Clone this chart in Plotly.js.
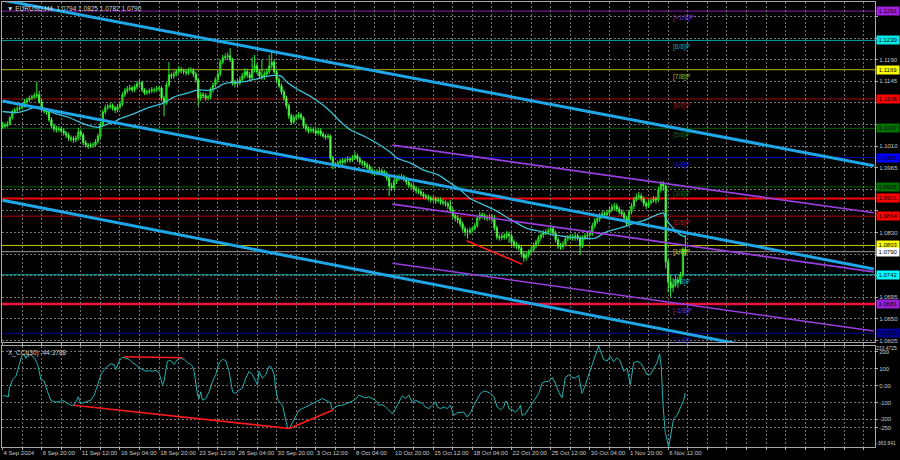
<!DOCTYPE html>
<html><head><meta charset="utf-8">
<script src="https://cdn.plot.ly/plotly-3.0.1.min.js"></script>
<style>html,body{margin:0;padding:0;background:#000;}#chart{width:900px;height:460px;}</style>
</head><body><div id="chart"></div>
<script>
// ---------- DATA (EURUSD H4, bar index 0 = 4 Sep 2024 04:00) ----------
const symbolName = 'EURUSD,H4';
const xTickLabels = ["4 Sep 2024","6 Sep 20:00","11 Sep 12:00","16 Sep 04:00","18 Sep 20:00","23 Sep 12:00","26 Sep 04:00","30 Sep 20:00","3 Oct 12:00","8 Oct 04:00","10 Oct 20:00","15 Oct 12:00","18 Oct 04:00","22 Oct 20:00","25 Oct 12:00","30 Oct 04:00","1 Nov 20:00","6 Nov 12:00"];
const barOpen = [
1.1050,1.1054,1.1052,1.1056,1.1069,1.1081,1.1085,1.1087,1.1090,1.1094,
1.1102,1.1106,1.1110,1.1112,1.1115,1.1117,1.1102,1.1085,1.1083,1.1081,
1.1065,1.1052,1.1046,1.1044,1.1046,1.1042,1.1037,1.1033,1.1027,1.1025,
1.1023,1.1027,1.1040,1.1033,1.1017,1.1012,1.1010,1.1012,1.1012,1.1019,
1.1031,1.1056,1.1081,1.1090,1.1092,1.1094,1.1090,1.1085,1.1092,1.1098,
1.1117,1.1125,1.1129,1.1131,1.1127,1.1133,1.1140,1.1142,1.1127,1.1121,
1.1123,1.1125,1.1127,1.1127,1.1129,1.1131,1.1110,1.1100,1.1137,1.1158,
1.1156,1.1160,1.1165,1.1169,1.1167,1.1165,1.1163,1.1167,1.1167,1.1160,
1.1148,1.1110,1.1117,1.1115,1.1110,1.1112,1.1127,1.1137,1.1148,1.1160,
1.1185,1.1194,1.1196,1.1198,1.1190,1.1142,1.1140,1.1142,1.1148,1.1156,
1.1165,1.1158,1.1152,1.1169,1.1177,1.1165,1.1156,1.1154,1.1160,1.1165,
1.1177,1.1185,1.1165,1.1148,1.1135,1.1123,1.1110,1.1094,1.1073,1.1060,
1.1069,1.1071,1.1075,1.1069,1.1052,1.1046,1.1042,1.1044,1.1042,1.1037,
1.1042,1.1035,1.1031,1.1029,1.1031,1.0985,1.0969,1.0973,1.0975,1.0979,
1.0977,1.0981,1.0983,1.0981,1.0985,1.0990,1.0983,1.0977,1.0975,1.0971,
1.0967,1.0960,1.0956,1.0954,1.0956,1.0958,1.0956,1.0952,1.0944,1.0927,
1.0923,1.0937,1.0942,1.0944,1.0946,1.0942,1.0935,1.0929,1.0927,1.0921,
1.0917,1.0915,1.0910,1.0906,1.0904,1.0902,1.0898,1.0900,1.0896,1.0898,
1.0894,1.0892,1.0890,1.0885,1.0877,1.0865,1.0860,1.0856,1.0848,1.0838,
1.0831,1.0831,1.0835,1.0838,1.0844,1.0860,1.0867,1.0865,1.0862,1.0860,
1.0862,1.0858,1.0840,1.0821,1.0819,1.0823,1.0821,1.0827,1.0823,1.0810,
1.0804,1.0802,1.0798,1.0785,1.0777,1.0783,1.0790,1.0794,1.0802,1.0810,
1.0819,1.0825,1.0829,1.0831,1.0833,1.0838,1.0829,1.0815,1.0802,1.0800,
1.0806,1.0817,1.0819,1.0821,1.0819,1.0823,1.0819,1.0802,1.0819,1.0823,
1.0825,1.0829,1.0844,1.0854,1.0858,1.0865,1.0869,1.0867,1.0871,1.0877,
1.0883,1.0885,1.0879,1.0873,1.0869,1.0860,1.0848,1.0873,1.0885,1.0898,
1.0904,1.0906,1.0900,1.0890,1.0885,1.0892,1.0896,1.0900,1.0898,1.0919,
1.0931,1.0927,1.0769,1.0727,1.0715,1.0721,1.0731,1.0727,1.0742,1.0794];
const barHigh = [
1.1060,1.1059,1.1062,1.1073,1.1086,1.1090,1.1093,1.1095,1.1099,1.1108,
1.1111,1.1115,1.1117,1.1121,1.1144,1.1125,1.1108,1.1091,1.1088,1.1085,
1.1070,1.1057,1.1052,1.1051,1.1050,1.1047,1.1041,1.1038,1.1032,1.1030,
1.1032,1.1048,1.1045,1.1037,1.1022,1.1016,1.1017,1.1018,1.1024,1.1036,
1.1061,1.1086,1.1096,1.1098,1.1100,1.1099,1.1094,1.1097,1.1104,1.1122,
1.1131,1.1135,1.1137,1.1135,1.1138,1.1146,1.1148,1.1146,1.1131,1.1128,
1.1130,1.1133,1.1132,1.1135,1.1136,1.1135,1.1115,1.1142,1.1185,1.1163,
1.1166,1.1170,1.1176,1.1175,1.1171,1.1170,1.1173,1.1174,1.1172,1.1165,
1.1152,1.1123,1.1122,1.1120,1.1117,1.1132,1.1142,1.1153,1.1166,1.1190,
1.1200,1.1203,1.1205,1.1214,1.1194,1.1148,1.1150,1.1155,1.1162,1.1172,
1.1171,1.1164,1.1195,1.1200,1.1182,1.1170,1.1190,1.1166,1.1172,1.1200,
1.1206,1.1190,1.1170,1.1153,1.1140,1.1128,1.1115,1.1099,1.1078,1.1075,
1.1077,1.1081,1.1079,1.1072,1.1057,1.1051,1.1050,1.1049,1.1047,1.1048,
1.1047,1.1040,1.1035,1.1036,1.1034,1.0990,1.0977,1.0980,1.0983,1.0985,
1.0986,1.0989,1.0988,1.0991,1.0998,1.0994,1.0988,1.0981,1.0979,1.0976,
1.0972,1.0966,1.0961,1.0962,1.0964,1.0963,1.0961,1.0957,1.0948,1.0933,
1.0942,1.0948,1.0951,1.0952,1.0950,1.0946,1.0940,1.0934,1.0932,1.0926,
1.0922,1.0920,1.0915,1.0911,1.0909,1.0907,1.0906,1.0905,1.0904,1.0903,
1.0900,1.0897,1.0895,1.0898,1.0882,1.0871,1.0866,1.0862,1.0853,1.0843,
1.0838,1.0841,1.0843,1.0850,1.0865,1.0873,1.0872,1.0870,1.0867,1.0868,
1.0868,1.0866,1.0845,1.0827,1.0829,1.0829,1.0833,1.0832,1.0828,1.0815,
1.0810,1.0807,1.0803,1.0790,1.0789,1.0795,1.0800,1.0808,1.0815,1.0824,
1.0830,1.0835,1.0837,1.0840,1.0846,1.0843,1.0834,1.0820,1.0808,1.0812,
1.0822,1.0825,1.0827,1.0826,1.0829,1.0828,1.0824,1.0824,1.0829,1.0831,
1.0835,1.0850,1.0860,1.0864,1.0871,1.0876,1.0874,1.0877,1.0884,1.0890,
1.0892,1.0890,1.0884,1.0878,1.0874,1.0865,1.0878,1.0891,1.0904,1.0911,
1.0915,1.0911,1.0905,1.0895,1.0898,1.0901,1.0906,1.0905,1.0925,1.0937,
1.0937,1.0930,1.0775,1.0740,1.0735,1.0740,1.0738,1.0748,1.0799,1.0825];
const barLow = [
1.1046,1.1047,1.1049,1.1053,1.1065,1.1077,1.1081,1.1083,1.1086,1.1090,
1.1098,1.1102,1.1106,1.1108,1.1110,1.1098,1.1080,1.1078,1.1075,1.1060,
1.1047,1.1040,1.1038,1.1039,1.1037,1.1032,1.1027,1.1021,1.1019,1.1017,
1.1018,1.1022,1.1028,1.1012,1.1007,1.1004,1.1006,1.1006,1.1008,1.1015,
1.1026,1.1051,1.1076,1.1085,1.1087,1.1084,1.1079,1.1080,1.1087,1.1093,
1.1112,1.1120,1.1124,1.1122,1.1122,1.1128,1.1135,1.1122,1.1116,1.1116,
1.1118,1.1120,1.1121,1.1122,1.1125,1.1104,1.1072,1.1096,1.1132,1.1150,
1.1150,1.1155,1.1160,1.1161,1.1159,1.1157,1.1158,1.1161,1.1154,1.1142,
1.1093,1.1104,1.1109,1.1104,1.1105,1.1107,1.1121,1.1132,1.1143,1.1155,
1.1180,1.1188,1.1190,1.1185,1.1136,1.1132,1.1134,1.1137,1.1143,1.1150,
1.1152,1.1145,1.1147,1.1163,1.1160,1.1150,1.1148,1.1148,1.1155,1.1160,
1.1172,1.1160,1.1142,1.1130,1.1117,1.1104,1.1088,1.1066,1.1054,1.1056,
1.1063,1.1066,1.1064,1.1047,1.1040,1.1036,1.1037,1.1036,1.1031,1.1032,
1.1030,1.1026,1.1023,1.1024,1.0980,1.0962,1.0963,1.0968,1.0971,1.0971,
1.0972,1.0976,1.0975,1.0977,1.0981,1.0977,1.0971,1.0969,1.0965,1.0961,
1.0955,1.0950,1.0948,1.0949,1.0951,1.0950,1.0946,1.0938,1.0906,1.0916,
1.0918,1.0931,1.0937,1.0939,1.0936,1.0929,1.0923,1.0921,1.0915,1.0911,
1.0910,1.0905,1.0900,1.0899,1.0896,1.0892,1.0893,1.0890,1.0891,1.0888,
1.0886,1.0884,1.0879,1.0870,1.0859,1.0853,1.0849,1.0842,1.0832,1.0823,
1.0817,1.0826,1.0830,1.0833,1.0840,1.0855,1.0859,1.0856,1.0854,1.0855,
1.0852,1.0834,1.0815,1.0813,1.0814,1.0815,1.0816,1.0808,1.0804,1.0798,
1.0796,1.0792,1.0779,1.0769,1.0771,1.0778,1.0785,1.0789,1.0797,1.0805,
1.0813,1.0819,1.0824,1.0826,1.0828,1.0823,1.0809,1.0796,1.0794,1.0795,
1.0801,1.0812,1.0814,1.0813,1.0813,1.0813,1.0783,1.0798,1.0815,1.0818,
1.0819,1.0823,1.0838,1.0848,1.0852,1.0859,1.0861,1.0862,1.0866,1.0872,
1.0877,1.0873,1.0867,1.0863,1.0854,1.0842,1.0845,1.0868,1.0879,1.0895,
1.0898,1.0894,1.0884,1.0879,1.0881,1.0888,1.0892,1.0890,1.0893,1.0913,
1.0917,1.0755,1.0705,1.0696,1.0706,1.0716,1.0715,1.0722,1.0736,1.0782];
const barClose = [
1.1054,1.1052,1.1056,1.1069,1.1081,1.1085,1.1087,1.1090,1.1094,1.1102,
1.1106,1.1110,1.1112,1.1115,1.1117,1.1102,1.1085,1.1083,1.1081,1.1065,
1.1052,1.1046,1.1044,1.1046,1.1042,1.1037,1.1033,1.1027,1.1025,1.1023,
1.1027,1.1040,1.1033,1.1017,1.1012,1.1010,1.1012,1.1012,1.1019,1.1031,
1.1056,1.1081,1.1090,1.1092,1.1094,1.1090,1.1085,1.1092,1.1098,1.1117,
1.1125,1.1129,1.1131,1.1127,1.1133,1.1140,1.1142,1.1127,1.1121,1.1123,
1.1125,1.1127,1.1127,1.1129,1.1131,1.1110,1.1100,1.1137,1.1158,1.1156,
1.1160,1.1165,1.1169,1.1167,1.1165,1.1163,1.1167,1.1167,1.1160,1.1148,
1.1110,1.1117,1.1115,1.1110,1.1112,1.1127,1.1137,1.1148,1.1160,1.1185,
1.1194,1.1196,1.1198,1.1190,1.1142,1.1140,1.1142,1.1148,1.1156,1.1165,
1.1158,1.1152,1.1169,1.1177,1.1165,1.1156,1.1154,1.1160,1.1165,1.1177,
1.1185,1.1165,1.1148,1.1135,1.1123,1.1110,1.1094,1.1073,1.1060,1.1069,
1.1071,1.1075,1.1069,1.1052,1.1046,1.1042,1.1044,1.1042,1.1037,1.1042,
1.1035,1.1031,1.1029,1.1031,1.0985,1.0969,1.0973,1.0975,1.0979,1.0977,
1.0981,1.0983,1.0981,1.0985,1.0990,1.0983,1.0977,1.0975,1.0971,1.0967,
1.0960,1.0956,1.0954,1.0956,1.0958,1.0956,1.0952,1.0944,1.0927,1.0923,
1.0937,1.0942,1.0944,1.0946,1.0942,1.0935,1.0929,1.0927,1.0921,1.0917,
1.0915,1.0910,1.0906,1.0904,1.0902,1.0898,1.0900,1.0896,1.0898,1.0894,
1.0892,1.0890,1.0885,1.0877,1.0865,1.0860,1.0856,1.0848,1.0838,1.0831,
1.0831,1.0835,1.0838,1.0844,1.0860,1.0867,1.0865,1.0862,1.0860,1.0862,
1.0858,1.0840,1.0821,1.0819,1.0823,1.0821,1.0827,1.0823,1.0810,1.0804,
1.0802,1.0798,1.0785,1.0777,1.0783,1.0790,1.0794,1.0802,1.0810,1.0819,
1.0825,1.0829,1.0831,1.0833,1.0838,1.0829,1.0815,1.0802,1.0800,1.0806,
1.0817,1.0819,1.0821,1.0819,1.0823,1.0819,1.0802,1.0819,1.0823,1.0825,
1.0829,1.0844,1.0854,1.0858,1.0865,1.0869,1.0867,1.0871,1.0877,1.0883,
1.0885,1.0879,1.0873,1.0869,1.0860,1.0848,1.0873,1.0885,1.0898,1.0904,
1.0906,1.0900,1.0890,1.0885,1.0892,1.0896,1.0900,1.0898,1.0919,1.0931,
1.0927,1.0769,1.0727,1.0715,1.0721,1.0731,1.0727,1.0742,1.0794,1.0790];

// moving average
const maBar = [0,6,10,14,18,22,27,31,35,39,42,46,48,54,59,65,67,70,76,80,84,88,90,93,99,104,108,111,114,116,120,126,130,134,138,142,148,153,159,161,167,172,178,183,187,191,195,201,208,214,220,225,231,236,242,247,252,258,263,267,270,271,274,277,279];
const maValue = [1.1082,1.1080,1.1085,1.1092,1.1085,1.1077,1.1070,1.1061,1.1053,1.1049,1.1054,1.1061,1.1067,1.1078,1.1089,1.1098,1.1103,1.1112,1.1121,1.1127,1.1126,1.1132,1.1139,1.1142,1.1144,1.1150,1.1155,1.1157,1.1155,1.1144,1.1130,1.1113,1.1099,1.1082,1.1061,1.1044,1.1030,1.1016,1.0995,1.0985,1.0974,1.0960,1.0950,1.0933,1.0919,1.0901,1.0891,1.0877,1.0856,1.0839,1.0832,1.0825,1.0821,1.0818,1.0818,1.0832,1.0839,1.0849,1.0857,1.0866,1.0871,1.0859,1.0839,1.0825,1.0821];

// CCI(30)
const cciBar = [0.1,1.4,2.4,2.8,4.1,5.5,6.9,7.8,8.6,9.6,10.3,11.6,13,14.4,15.7,17.1,18.4,19.8,21.2,23.2,24.6,25.9,28,29,30,31,32,33.4,34.8,36.1,37.5,38.8,40.2,41.6,42.9,44.3,45.6,46.3,47.7,49,50.4,51.8,53.1,54.5,55.8,57.2,58.6,59.9,61.3,62.7,64,65.4,66,66.7,67.4,68.8,70.1,71.5,72.9,74.2,75.6,76.9,77.6,78.3,79,79.7,80.3,81,81.7,83.1,84.4,85.8,87.1,88.5,89.9,91.2,92.6,94,95.3,96.7,98,99.4,100.8,102.1,103.5,104.2,104.8,106.2,107.6,108.9,109.9,111,111.6,112.6,114.4,115.7,116.4,117.2,118.4,119.8,121.1,122.5,123.9,125.2,126.6,127.9,129.3,130.7,132,133.4,
134.1,134.7,136.1,137.5,138.8,140.2,141.6,142.9,144.3,145.6,147,148.3,149.7,151.1,152.4,153.8,155.2,156.5,157.9,159.3,160.6,162,163.3,164.7,166,167.4,168.8,170.1,171.5,172.9,174.2,175.6,176.3,177,177.6,179,180.3,181.7,183,183.7,184.4,185.8,187.1,188.5,189.9,191.2,192.6,194,195.3,196.7,198,199.4,200.8,202.1,203.5,204.8,205.5,206.2,206.9,208.2,209.6,211,211.6,212.3,213.7,215,216.4,217.8,219.1,220.5,221.8,223.2,224.6,225.9,227.3,228.6,230,231.4,232.7,234.1,235.4,236.8,238.2,239.5,240.9,242.3,243.6,
245.6,247,248.4,249.7,251.1,252.4,253.8,255.2,256.5,257.2,257.9,259.3,260.6,262,263.3,264.7,266,267.4,268.5,269.2,269.9,270.8,272.2,272.9,274.2,275.6,277,278.3,279];
const cciValue = [-61,-61,-67,-17,34,54,124,174,188,160,188,180,164,124,34,24,-37,-87,-97,-97,-87,-101,-117,-117,-97,-67,-107,-101,-97,-87,-57,4,64,94,114,128,124,94,144,168,160,154,134,124,104,94,84,88,84,90,74,4,24,84,144,148,124,154,160,154,134,124,114,84,14,-57,-77,-37,-87,-77,-37,24,64,134,154,148,84,-37,-47,-27,-17,44,84,64,24,4,84,44,64,114,108,64,-17,-87,-117,-197,-248,-254,-218,-177,-147,-137,-127,-117,-107,-97,-87,-77,-87,-97,
-107,-143,-127,-117,-117,-111,-101,-93,-81,-57,-67,-73,-67,-77,-87,-117,-113,-127,-147,-167,-137,-97,-61,-77,-57,-97,-87,-97,-107,-127,-137,-117,-107,-97,-127,-137,-127,-137,-117,-147,-177,-161,-161,-157,-187,-161,-117,-77,-47,-33,-37,-47,-67,-127,-143,-127,-93,-97,-137,-143,-157,-137,-117,-177,-167,-137,-107,-73,-47,14,24,24,48,14,-41,-73,48,64,48,44,60,-47,4,64,124,184,233.4725,
154,144,174,140,164,144,84,104,4,64,134,144,134,104,64,64,94,134,188,104,-117,-278,-363.641,-308,-197,-177,-127,-87,-44.3788];
const cciMin = -363.641, cciMax = 233.4725;
const cciTicks = [200,100,0,-100,-200,-250];
const cciTickText = ['200','100','0.00','-100','-200','-250'];

// price axis ticks
const priceTicks = [1.0605,1.0650,1.0695,1.0740,1.0785,1.0830,1.0875,1.0920,1.0965,1.1010,1.1055,1.1100,1.1145,1.1190,1.1235,1.1280];

// Murrey math levels
const murreyLevels = [1.1291,1.1230,1.1169,1.1108,1.1047,1.0986,1.0925,1.0864,1.0803,1.0742,1.0681,1.0620];
const murreyNames = ['[+1/8]P','[8/8]P','[7/8]P','[6/8]P','[5/8]P','[4/8]P','[3/8]P','[2/8]P','[1/8]P','[0/8]P','[-1/8]P','[-2/8]P'];
// other horizontal levels
const supportLevels = [1.0901,1.0681];
const lastPrice = 1.0790;

// drawn trend lines [bar0, bar1], [price0, price1]
const channelBars = [0,356];
const channelUpper = [1.1314,1.0969];
const channelMiddle = [1.1104,1.0754];
const channelLower = [1.0897,1.0543];
const purpleBars = [159.3,356];
const purpleUpper = [1.1012,1.0871];
const purpleMiddle = [1.0889,1.0748];
const purpleLower = [1.0766,1.0625];
const priceDivBars = [189.6,212.3];
const priceDivValues = [1.0813,1.0764];
const cciDivLowBars = [29,117.2], cciDivLowValues = [-117,-254];
const cciDivHighBars = [49.7,73.5], cciDivHighValues = [170,164];
const cciDivUpBars = [117.2,135.3], cciDivUpValues = [-254,-143];

// ---------- STYLE ----------
const murreyColors = ['#8a1fb0','#00a8a8','#b8b800','#a80000','#006400','#0000c8','#006400','#c00000','#c8c800','#00b8b8','#8a1fb0','#000098'];
const murreyTextColors = ['#8a2fc0','#20a8a8','#b8b820','#b01010','#107010','#1010d0','#107010','#d01010','#c8c820','#20c0c0','#9030c8','#1010a0'];
const FONT = 'Liberation Sans, Arial, sans-serif';
const TXT = '#c8c8c8';
const GRID = '#737373';

const barX = barClose.map((_, i) => i);
const n = barClose.length;

const traces = [];
traces.push({type:'candlestick', x:barX, open:barOpen, high:barHigh, low:barLow, close:barClose,
  xaxis:'x', yaxis:'y', whiskerwidth:0, hoverinfo:'skip',
  increasing:{line:{color:'#2ae62a', width:1}, fillcolor:'#0e9a0e'},
  decreasing:{line:{color:'#3cf03c', width:1}, fillcolor:'#a6ff78'}});
traces.push({type:'scatter', mode:'lines', x:maBar, y:maValue, xaxis:'x', yaxis:'y',
  line:{color:'#3cc0d4', width:1.3, shape:'spline', smoothing:0.6}, hoverinfo:'skip'});
[channelUpper, channelMiddle, channelLower].forEach(v => traces.push({type:'scatter', mode:'lines',
  x:channelBars, y:v, xaxis:'x', yaxis:'y', line:{color:'#1fa6e6', width:3}, hoverinfo:'skip'}));
[purpleUpper, purpleMiddle, purpleLower].forEach(v => traces.push({type:'scatter', mode:'lines',
  x:purpleBars, y:v, xaxis:'x', yaxis:'y', line:{color:'#9a3ee0', width:1.6}, hoverinfo:'skip'}));
traces.push({type:'scatter', mode:'lines', x:priceDivBars, y:priceDivValues, xaxis:'x', yaxis:'y',
  line:{color:'#ff1a1a', width:1.6}, hoverinfo:'skip'});
traces.push({type:'scatter', mode:'lines', x:cciBar, y:cciValue, xaxis:'x', yaxis:'y2',
  line:{color:'#22b4b4', width:1}, hoverinfo:'skip'});
[[cciDivLowBars,cciDivLowValues],[cciDivHighBars,cciDivHighValues],[cciDivUpBars,cciDivUpValues]].forEach(p =>
  traces.push({type:'scatter', mode:'lines', x:p[0], y:p[1], xaxis:'x', yaxis:'y2',
  line:{color:'#ff1a1a', width:1.6}, hoverinfo:'skip'}));

// x ticks: grid every 8 bars, label every 16
const xTickVals = [], xTickText = [];
for (let k = 0; k * 8 <= 356; k++) {
  xTickVals.push(k * 8);
  xTickText.push(k % 2 === 0 && xTickLabels[k / 2] ? xTickLabels[k / 2] : '');
}

const shapes = [];
murreyLevels.forEach((lv, i) => shapes.push({type:'line', xref:'paper', x0:0, x1:1, yref:'y', y0:lv, y1:lv,
  line:{color:murreyColors[i], width:1}, layer:'between'}));
shapes.push({type:'line', xref:'paper', x0:0, x1:1, yref:'y', y0:lastPrice, y1:lastPrice,
  line:{color:'#9a9a9a', width:1}, layer:'between'});
shapes.push({type:'line', xref:'paper', x0:0, x1:1, yref:'y', y0:supportLevels[0], y1:supportLevels[0],
  line:{color:'#ff0000', width:2}, layer:'between'});
shapes.push({type:'line', xref:'paper', x0:0, x1:1, yref:'y', y0:supportLevels[1], y1:supportLevels[1],
  line:{color:'#f0103c', width:2.5}, layer:'between'});

const annotations = [];
const L = n - 1;
annotations.push({xref:'paper', yref:'paper', x:0, y:1, xanchor:'left', yanchor:'top', xshift:3, yshift:-1,
  showarrow:false, text:'\u25BC ' + symbolName + '  ' + [barOpen[L], barHigh[L], barLow[L], barClose[L]].map(v => v.toFixed(4)).join(' '),
  font:{family:FONT, size:6.5, color:'#d8d8d8'}});
annotations.push({xref:'paper', yref:'paper', x:0, y:0.227, xanchor:'left', yanchor:'top', xshift:4, yshift:-1,
  showarrow:false, text:'X_CCI(30) ' + cciValue[cciValue.length - 1].toFixed(4),
  font:{family:FONT, size:6.5, color:'#d0d0d0'}});
// scale extremes of the CCI window, kept inside the pane as the terminal does
annotations.push({xref:'paper', yref:'y2', x:1, y:cciMax, xanchor:'left', yanchor:'top', xshift:0, yshift:2,
  borderpad:0, showarrow:false, text:cciMax.toString(), font:{family:FONT, size:5, color:TXT}});
annotations.push({xref:'paper', yref:'y2', x:1, y:cciMin, xanchor:'left', yanchor:'bottom', xshift:0, yshift:0,
  borderpad:0, showarrow:false, text:cciMin.toString(), font:{family:FONT, size:5, color:TXT}});
murreyLevels.forEach((lv, i) => annotations.push({xref:'x', yref:'y', x:273, y:lv, xanchor:'left', yanchor:'top',
  yshift:-1, showarrow:false, text:murreyNames[i], font:{family:FONT, size:6.5, color:murreyTextColors[i]}}));
const boxLevels = murreyLevels.concat(supportLevels[0], lastPrice);
const boxColors = ['#a020e0','#00e8e8','#ffff00','#ff0000','#007000','#0000ff','#007000','#ff0000','#ffff00','#00ffff','#9a20d8','#000090','#ff0000','#ffffff'];
boxLevels.forEach((lv, i) => annotations.push({xref:'paper', yref:'y', x:1, y:lv, xanchor:'left', yanchor:'middle',
  xshift:1, showarrow:false, text:lv.toFixed(4), bgcolor:boxColors[i], borderpad:0.5, width:21, height:7,
  font:{family:FONT, size:6, color:'#000'}}));

// price tick labels that sit under a price box are hidden by it (as in the terminal)
const priceTickText = priceTicks.map(t => boxLevels.some(b => Math.abs(b - t) < 0.0013) ? '' : t.toFixed(4));

const axisCommon = {showline:true, linecolor:'#a8a8a8', linewidth:1, zeroline:false, fixedrange:true,
  gridcolor:GRID, griddash:'2px,2px', gridwidth:1, tickfont:{family:FONT, size:6, color:TXT},
  ticks:'outside', ticklen:2, tickcolor:'#a8a8a8'};

const layout = {
  width:900, height:460, margin:{l:2, r:25, t:2, b:13},
  paper_bgcolor:'#000', plot_bgcolor:'#000', showlegend:false,
  font:{family:FONT, size:6, color:TXT},
  xaxis:Object.assign({}, axisCommon, {range:[-0.2, 356.5], anchor:'y2', tickvals:xTickVals, ticktext:xTickText,
    tickangle:0, ticklabelposition:'outside right', mirror:'all', rangeslider:{visible:false}, showgrid:true}),
  yaxis:Object.assign({}, axisCommon, {domain:[0.236, 1], range:[1.0602, 1.1310], side:'right', anchor:'x',
    tickvals:priceTicks, ticktext:priceTickText, mirror:true, showgrid:true}),
  yaxis2:Object.assign({}, axisCommon, {domain:[0, 0.227], range:[cciMin, cciMax], side:'right', anchor:'x',
    tickvals:cciTicks, ticktext:cciTickText, mirror:true, showgrid:true}),
  shapes:shapes, annotations:annotations
};

Plotly.newPlot('chart', traces, layout, {staticPlot:true, displayModeBar:false});
</script>
</body></html>
